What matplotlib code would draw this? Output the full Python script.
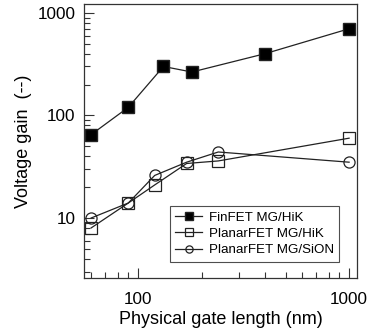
import matplotlib
matplotlib.use("Agg")
import matplotlib.pyplot as plt
from matplotlib.ticker import LogLocator, NullFormatter, FixedLocator, FixedFormatter

plt.rcParams['font.family'] = ['Liberation Sans', 'DejaVu Sans']

# gate length (nm)
fin_x = [60, 90, 132, 180, 400, 1000]
fin_y = [65, 120, 300, 265, 400, 700]

hik_x = [60, 90, 120, 170, 240, 1000]
hik_y = [8, 14, 21, 34, 36, 60]

sion_x = [60, 90, 120, 170, 240, 1000]
sion_y = [10, 14, 26, 35, 44, 35]

labels = ["FinFET MG/HiK", "PlanarFET MG/HiK", "PlanarFET MG/SiON"]

fig = plt.figure(figsize=(3.69, 3.35), dpi=100)
ax = fig.add_axes([84/369, 1 - 278/335, (357-84)/369, (278-4)/335])

lw = 0.9
ax.plot(fin_x, fin_y, '-s', color='#222222', lw=lw, ms=8, mfc='black',
        mec='#222222', label=labels[0])
ax.plot(hik_x, hik_y, '-s', color='#222222', lw=lw, ms=8, mfc='none',
        mec='#222222', mew=0.9, label=labels[1])
ax.plot(sion_x, sion_y, '-o', color='#222222', lw=lw, ms=8, mfc='none',
        mec='#222222', mew=0.9, label=labels[2])

ax.set_xscale('log')
ax.set_yscale('log')
ax.set_xlim(55.5, 1090)
ax.set_ylim(2.6, 1220)

ax.xaxis.set_major_locator(FixedLocator([100, 1000]))
ax.xaxis.set_major_formatter(FixedFormatter(["100", "1000"]))
ax.xaxis.set_minor_locator(LogLocator(base=10, subs=range(2, 10)))
ax.xaxis.set_minor_formatter(NullFormatter())
ax.yaxis.set_major_locator(FixedLocator([10, 100, 1000]))
ax.yaxis.set_major_formatter(FixedFormatter(["10", "100", "1000"]))
ax.yaxis.set_minor_locator(LogLocator(base=10, subs=range(2, 10)))
ax.yaxis.set_minor_formatter(NullFormatter())

ax.tick_params(which='both', direction='in', top=False, right=False,
               color='#333333', width=0.8, labelsize=12.3)
ax.tick_params(which='major', length=7)
ax.tick_params(which='minor', length=4.5)
ax.tick_params(axis='x', which='both', pad=10)
ax.tick_params(axis='y', which='both', pad=6)
for s in ax.spines.values():
    s.set_linewidth(0.9)
    s.set_color('#333333')

ax.set_xlabel("Physical gate length (nm)", fontsize=13, labelpad=3)
ax.set_ylabel("Voltage gain  (--)", fontsize=13, labelpad=4)

leg = ax.legend(loc='lower right', bbox_to_anchor=(0.935, 0.06), fontsize=9.6,
                frameon=True, fancybox=False, edgecolor='#222222',
                markerscale=0.65, handlelength=2.0, handletextpad=0.5,
                borderpad=0.4, labelspacing=0.3, borderaxespad=0)
leg.get_frame().set_linewidth(0.8)

fig.savefig("out.png", dpi=100)
